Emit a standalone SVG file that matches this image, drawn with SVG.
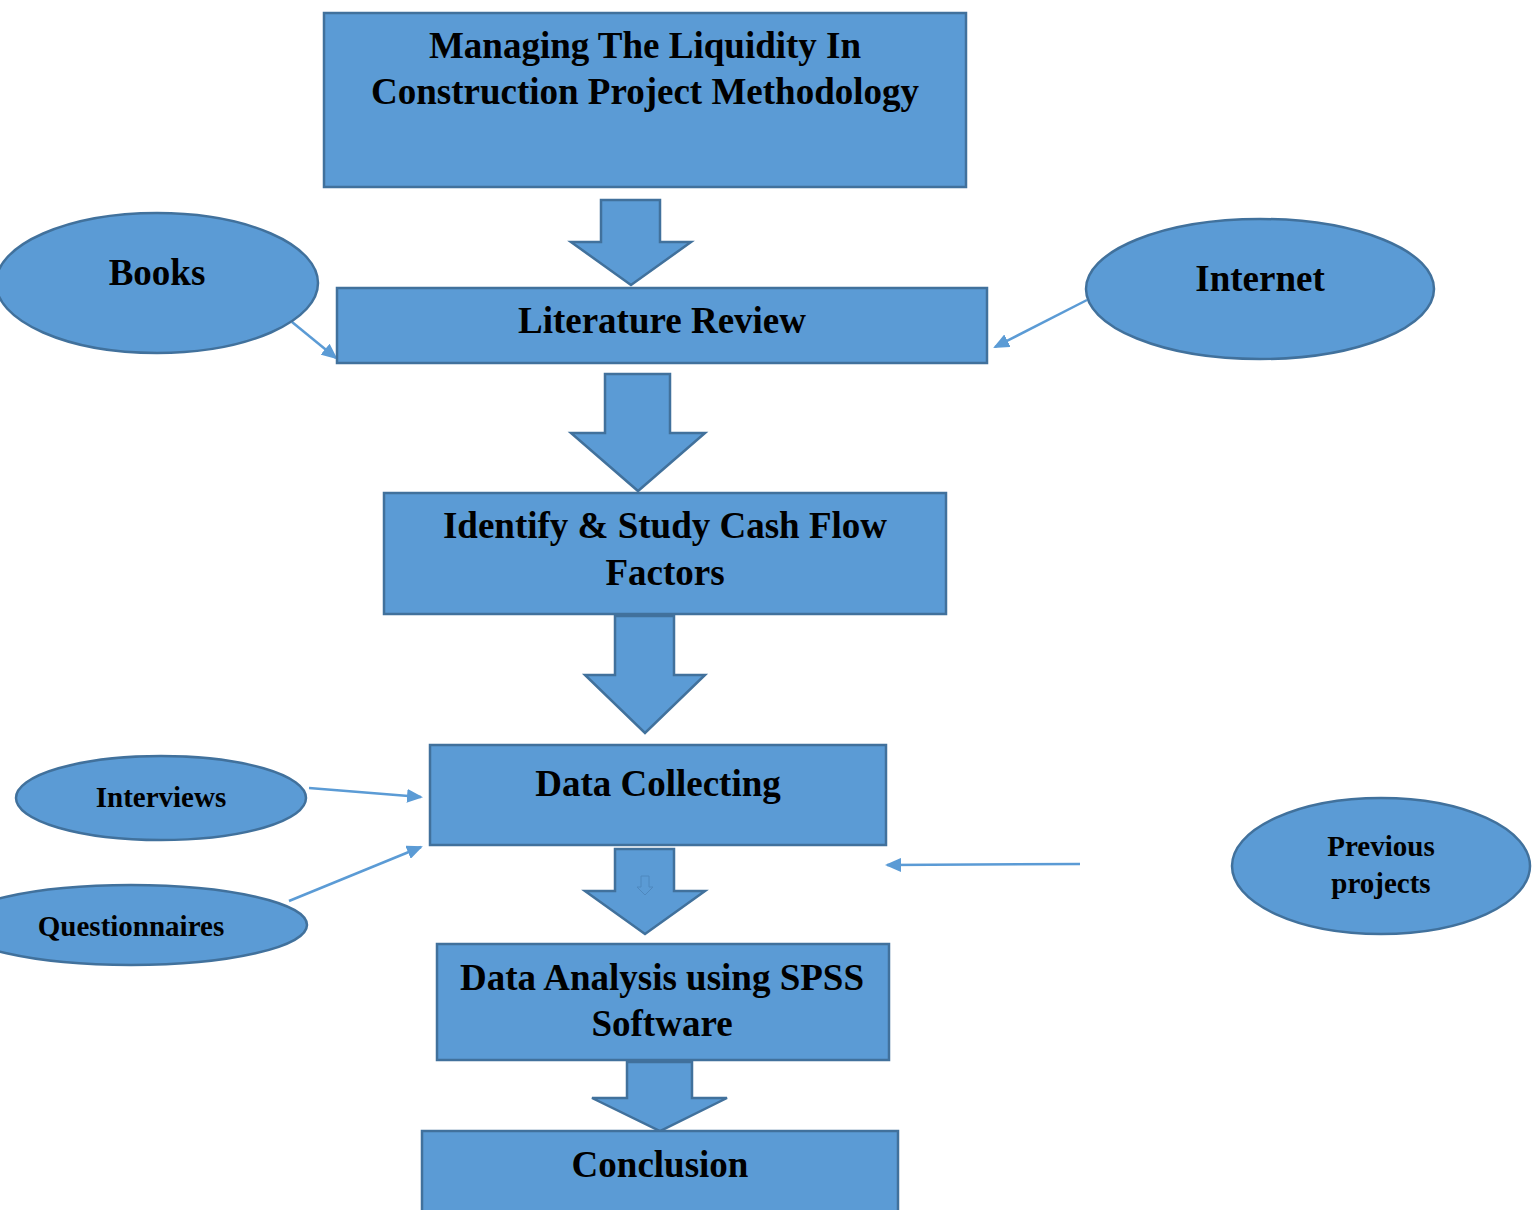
<svg xmlns="http://www.w3.org/2000/svg" width="1537" height="1210" viewBox="0 0 1537 1210">
<style>
.n{fill:#5B9BD5;stroke:#41719C;stroke-width:2.5}
.t{font-family:"Liberation Serif","Times New Roman",serif;font-weight:bold;fill:#000;text-anchor:middle}
.b{font-size:37px}
.s{font-size:29px}
.c{stroke:#5B9BD5;stroke-width:2.5;fill:none}
</style>
<defs>
<marker id="ah" markerWidth="16" markerHeight="14" refX="14" refY="7" orient="auto" markerUnits="userSpaceOnUse" viewBox="0 0 16 14">
<path d="M0,0 L16,7 L0,14 Z" fill="#5B9BD5"/>
</marker>
</defs>
<rect width="1537" height="1210" fill="#fff"/>
<g id="connectors">
<path class="n" d="M601,200 H660 V242 H691 L631,285 L571,242 H601 Z"/>
<path class="n" d="M605,374 H670 V433 H705 L638,491 L571,433 H605 Z"/>
<path class="n" d="M615,616 H674 V675 H705 L645,733 L585,675 H615 Z"/>
<path class="n" d="M615,849 H674 V891 H705 L645,934 L585,891 H615 Z"/>
<path d="M641,876 H649 V887 H653 L645,895 L637,887 H641 Z" fill="none" stroke="#4F88BE" stroke-width="1"/>
<path class="n" d="M627,1062 H692 V1098 H727 L660,1131 L592,1098 H627 Z"/>
<line class="c" x1="292" y1="322" x2="336" y2="358" marker-end="url(#ah)"/>
<line class="c" x1="1087" y1="300" x2="995" y2="347" marker-end="url(#ah)"/>
<line class="c" x1="309" y1="788" x2="421" y2="797" marker-end="url(#ah)"/>
<line class="c" x1="289" y1="901" x2="421" y2="847" marker-end="url(#ah)"/>
<line class="c" x1="1080" y1="864" x2="887" y2="865" marker-end="url(#ah)"/>
</g>
<g id="title">
<rect class="n" x="324" y="13" width="642" height="174"/>
<text class="t b" x="645" y="58">Managing The Liquidity In</text>
<text class="t b" x="645" y="104">Construction Project Methodology</text>
</g>
<g id="literature">
<rect class="n" x="337" y="288" width="650" height="75"/>
<text class="t b" x="662" y="333">Literature Review</text>
</g>
<g id="books">
<ellipse class="n" cx="157" cy="283" rx="161" ry="70"/>
<text class="t b" x="157" y="285">Books</text>
</g>
<g id="internet">
<ellipse class="n" cx="1260" cy="289" rx="174" ry="70"/>
<text class="t b" x="1260" y="291">Internet</text>
</g>
<g id="identify">
<rect class="n" x="384" y="493" width="562" height="121"/>
<text class="t b" x="665" y="538">Identify &amp; Study Cash Flow</text>
<text class="t b" x="665" y="585">Factors</text>
</g>
<g id="datacollecting">
<rect class="n" x="430" y="745" width="456" height="100"/>
<text class="t b" x="658" y="796">Data Collecting</text>
</g>
<g id="interviews">
<ellipse class="n" cx="161" cy="798" rx="145" ry="42"/>
<text class="t s" x="161" y="807">Interviews</text>
</g>
<g id="questionnaires">
<ellipse class="n" cx="131" cy="925" rx="176" ry="40"/>
<text class="t s" x="131" y="936">Questionnaires</text>
</g>
<g id="previous">
<ellipse class="n" cx="1381" cy="866" rx="149" ry="68"/>
<text class="t s" x="1381" y="856">Previous</text>
<text class="t s" x="1381" y="893">projects</text>
</g>
<g id="analysis">
<rect class="n" x="437" y="944" width="452" height="116"/>
<text class="t b" x="662" y="990">Data Analysis using SPSS</text>
<text class="t b" x="662" y="1036">Software</text>
</g>
<g id="conclusion">
<rect class="n" x="422" y="1131" width="476" height="90"/>
<text class="t b" x="660" y="1177">Conclusion</text>
</g>
</svg>
